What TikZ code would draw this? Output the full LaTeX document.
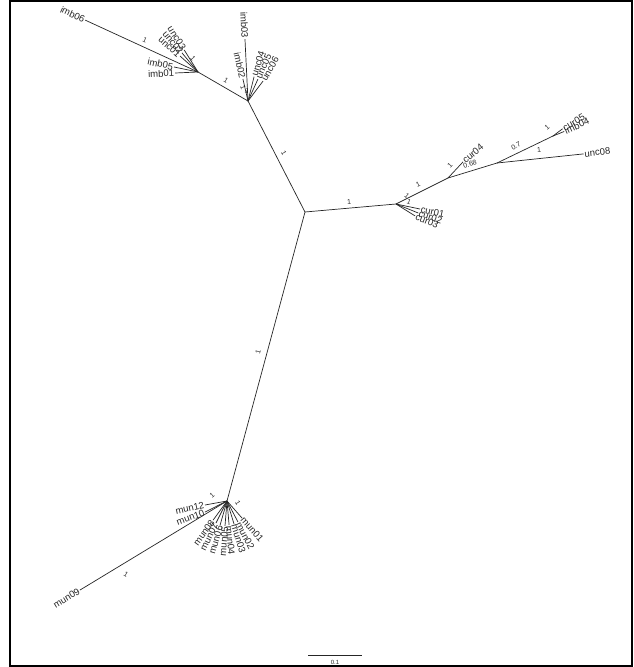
\documentclass[tikz,border=0pt]{standalone}
\usepackage{fontspec}
\setmainfont{Liberation Sans}
\usetikzlibrary{calc}
\tikzset{
  edge/.style={draw=black!85, line width=0.7pt},
  lbl/.style={inner sep=0.8pt, font=\fontsize{9.5}{10}\selectfont, text=black!85},
  supp/.style={inner sep=0pt, font=\fontsize{7}{8}\selectfont, text=black!85},
  frame/.style={draw=black, line width=1.6pt},
}
% parent, name, angle, length, text rotation, text
\newcommand{\lfR}[6]{\path (#1) ++(#3:#4) coordinate (#2);
  \draw[edge] (#1) -- (#2);
  \node[lbl, anchor=west, rotate={#5}] (t#2) at (#2) {#6};}
\newcommand{\lfL}[6]{\path (#1) ++(#3:#4) coordinate (#2);
  \draw[edge] (#1) -- (#2);
  \node[lbl, anchor=east, rotate={#5}] (t#2) at (#2) {#6};}
\begin{document}
\begin{tikzpicture}[x=1pt, y=-1pt]
\useasboundingbox (0,0) rectangle (634,667);
\fill[white] (0,0) rectangle (634,667);
\draw[frame] (10,1) rectangle (632,666);

% internal nodes
\coordinate (C) at (305,212);
\coordinate (A) at (248,101);
\coordinate (B) at (198,72);
\coordinate (D) at (396,204);
\coordinate (E) at (448,178);
\coordinate (F) at (497,163);
\coordinate (G) at (553,136);
\coordinate (H) at (227,501);

\draw[edge] (C) -- (A);
\draw[edge] (A) -- (B);
\draw[edge] (C) -- (D);
\draw[edge] (D) -- (E);
\draw[edge] (E) -- (F);
\draw[edge] (F) -- (G);
\draw[edge] (C) -- (H);

% imb / unc cluster B
\lfL{B}{imb06}{204.7}{124}{-24.7}{imb06}
\lfL{B}{imb05}{191.8}{24.5}{-11.8}{imb05}
\lfL{B}{imb01}{177.5}{23}{2.5}{imb01}
\lfL{B}{unc01}{221.6}{24}{-41.6}{unc01}
\lfL{B}{unc02}{230}{25}{-50}{unc02}
\lfL{B}{unc03}{238}{26}{-58}{unc03}

% cluster A
\lfL{A}{imb03}{267.2}{62}{-87.2}{imb03}
\lfL{A}{imb02}{257}{22.6}{-77}{imb02}
\lfR{A}{unc04}{-76}{25}{73}{unc04}
\lfR{A}{unc05}{-65.6}{24}{66}{unc05}
\lfR{A}{unc06}{-53}{25}{60}{unc06}

% cur cluster D
\lfR{D}{cur01}{11.8}{24.5}{-12}{cur01}
\lfR{D}{cur02}{22}{24}{-18}{cur02}
\lfR{D}{cur03}{32}{22.5}{-22}{cur03}
\lfR{E}{cur04}{-47}{22}{40}{cur04}
\lfR{G}{cur05}{-37}{12}{30}{cur05}
\lfR{G}{imb04}{-22}{12}{24}{imb04}
\lfR{F}{unc08}{-6}{87}{6}{unc08}

% mun cluster H
\lfL{H}{mun09}{148.8}{172}{31.2}{mun09}
\lfL{H}{mun12}{169.7}{22.4}{12}{mun12}
\lfL{H}{mun10}{153.4}{24.6}{20}{mun10}
\lfL{H}{mun08}{126}{23.6}{54}{mun08}
\lfL{H}{mun07}{116.6}{24.6}{63.4}{mun07}
\lfL{H}{mun06}{106}{25}{74}{mun06}
\lfL{H}{mun05}{94.6}{25}{85.4}{mun05}
\lfR{H}{mun04}{85}{24}{-85}{mun04}
\lfR{H}{mun03}{73}{24}{-73}{mun03}
\lfR{H}{mun02}{62.4}{23.7}{-62.4}{mun02}
\lfR{H}{mun01}{48.6}{22.7}{-48.6}{mun01}

% support values
\node[supp, rotate=-25] (s1) at (145,40) {1};
\node[supp, rotate=-31] (s2) at (226,80) {1};
\node[supp, rotate=-62] (s3) at (284,153) {1};
\node[supp, rotate=-50] (s4) at (193,58) {1};
\node[supp, rotate=-70] (s5) at (243,88) {1};
\node[supp, rotate=-20] (s6) at (247,91) {1};
\node[supp, rotate=5] (s7) at (349,202) {1};
\node[supp, rotate=-40] (s8) at (407,196) {1};
\node[supp, rotate=-20] (s9) at (409,202) {1};
\node[supp, rotate=26] (s10) at (418,184) {1};
\node[supp, rotate=47] (s11) at (450,165) {1};
\node[supp, rotate=17] (s12) at (470,164) {0.68};
\node[supp, rotate=27] (s13) at (516,146) {0.7};
\node[supp, rotate=6] (s14) at (539,150) {1};
\node[supp, rotate=40] (s15) at (547,127) {1};
\node[supp, rotate=75] (s16) at (258,352) {1};
\node[supp, rotate=-31] (s17) at (126,574) {1};
\node[supp, rotate=40] (s18) at (212,495) {1};
\node[supp, rotate=-60] (s19) at (238,503) {1};

% scale bar
\coordinate (sb1) at (308,655);
\coordinate (sb2) at (362,655);
\draw[edge] (sb1) -- (sb2);
\node[supp, font=\fontsize{6}{7}\selectfont] (sbl) at (335,662) {0.1};
\end{tikzpicture}
\end{document}
